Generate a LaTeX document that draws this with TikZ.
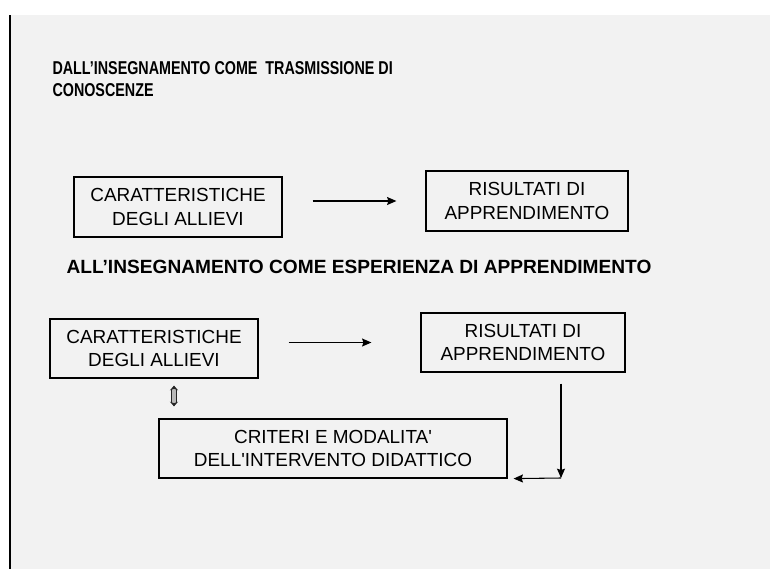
\documentclass[tikz,border=0pt]{standalone}
\usepackage{fontspec}
\setmainfont{Liberation Sans}
\newfontfamily\boxfont[Ligatures=TeXOff]{Liberation Sans}
\newfontfamily\narrowfont[FakeStretch=0.77]{Liberation Sans}
\usetikzlibrary{arrows,arrows.meta}
\usetikzlibrary{positioning}
\usetikzlibrary{calc}
\definecolor{slidebg}{HTML}{F2F2F2}

\begin{document}
\begin{tikzpicture}[x=0.75bp,y=-0.75bp,-{Stealth[length=7bp,width=6bp,inset=1bp]},line width=0.8bp,
			font=\boxfont\fontsize{14.25}{18}\selectfont]
			\tikzstyle{box}=[draw,line width=0.9bp,inner sep=0pt,align=center,minimum height=45bp]
			\tikzstyle{heading}=[inner sep=0pt,align=left]
			\tikzstyle{dblarrow}=[draw=black!85,line width=0.6bp,double=gray!55,double distance=2.6bp,
				{Stealth[length=3.5bp,width=6bp]}-{Stealth[length=3.5bp,width=6bp]}]
			
			\useasboundingbox (0,0) rectangle (770,569);
			\fill[slidebg] (10,15) rectangle (770,569);
			\draw[-,line width=1.2bp] (10,15) -- (10,569);
			
			\node[heading,anchor=base west,font=\narrowfont\bfseries\fontsize{14}{16.5}\selectfont] (title1) at (52,74)
				{DALL’INSEGNAMENTO COME\ \ TRASMISSIONE DI};
			\node[heading,anchor=base west,font=\narrowfont\bfseries\fontsize{14}{16.5}\selectfont] (title1b) at (52,96)
				{CONOSCENZE};
			\node[heading,anchor=base west,font=\bfseries\fontsize{14.4}{18}\selectfont] (title2) at (66,273)
				{ALL’INSEGNAMENTO COME ESPERIENZA DI APPRENDIMENTO};
			
			\node[box,minimum width=156bp]         (allievi1)  at (178,207)    {CARATTERISTICHE\\ DEGLI ALLIEVI};
			\node[box,minimum width=151.5bp]       (risultati1) at (527,201)   {RISULTATI DI\\ APPRENDIMENTO};
			\node[box,minimum width=156bp,minimum height=44.25bp]  (allievi2)  at (154,348.5)  {CARATTERISTICHE\\ DEGLI ALLIEVI};
			\node[box,minimum width=153bp,minimum height=44.25bp]  (risultati2) at (523,342.5) {RISULTATI DI\\ APPRENDIMENTO};
			\node[box,minimum width=261bp,minimum height=44.25bp]  (criteri)   at (333,448.5)  {CRITERI E MODALITA'\\ DELL'INTERVENTO DIDATTICO};
			
			\coordinate (dx) at (174,0);
			\coordinate (corner) at (561,478);
			
			\draw ($(allievi1.east |- risultati1.west)+(30,0)$) -- ($(risultati1.west)+(-29,0)$);
			\draw ($(allievi2.east |- risultati2.west)+(30,0)$) -- ($(risultati2.west)+(-49,0)$);
			\draw[dblarrow] ($(allievi2.south -| dx)+(0,7)$) -- ($(criteri.north -| dx)+(0,-12)$);
			\draw ($(risultati2.south -| corner)+(0,11)$) -- (corner);
			\draw (corner) -- ($(criteri.south east)+(6,0)$);
			
\end{tikzpicture}
\end{document}
